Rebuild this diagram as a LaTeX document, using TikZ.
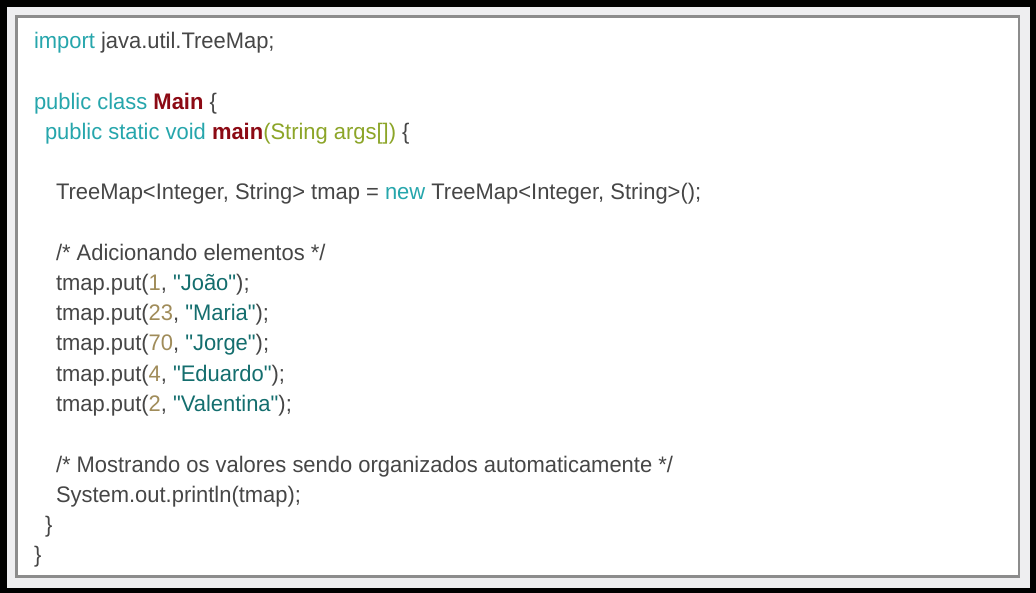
\documentclass[tikz,border=0pt]{standalone}
\usepackage{fontspec}
\setmainfont{Liberation Sans}[Ligatures=TeXOff, FakeStretch=0.975]
\definecolor{kw}{RGB}{38,166,172}
\definecolor{dred}{RGB}{140,10,20}
\definecolor{olive}{RGB}{140,165,40}
\definecolor{numc}{RGB}{160,140,90}
\definecolor{strc}{RGB}{20,110,110}
\definecolor{txt}{RGB}{70,70,70}
\definecolor{band}{RGB}{238,238,240}
\definecolor{rim}{RGB}{140,140,140}
\tikzset{
  code/.style={anchor=base west, inner sep=0pt, outer sep=0pt, text=txt,
    font=\fontsize{22.5}{27}\selectfont},
}
\newcommand{\K}[1]{\textcolor{kw}{#1}}
\newcommand{\R}[1]{\textcolor{dred}{\textbf{#1}}}
\newcommand{\G}[1]{\textcolor{olive}{#1}}
\newcommand{\N}[1]{\textcolor{numc}{#1}}
\newcommand{\St}[1]{\textcolor{strc}{#1}}
\begin{document}
\begin{tikzpicture}[x=1pt,y=-1pt]
\useasboundingbox (0,0) rectangle (1036,593);
\fill[black] (0,0) rectangle (1036,593);
\fill[band] (7,7) rectangle (1030,588);
\draw[rim, line width=2.5pt, fill=white] (16.5,16.5) rectangle (1019,576.5);
\node[code] (l1) at (34,49) {\K{import} java.util.TreeMap;};
\node[code] (l3) at (34,109.4) {\K{public class} \R{Main} \{};
\node[code] (l4) at (45,139.6) {\K{public static void} \R{main}\G{(String args[])} \{};
\node[code] (l6) at (56,200) {TreeMap<Integer, String> tmap = \K{new} TreeMap<Integer, String>();};
\node[code] (l8) at (56,260.4) {/* Adicionando elementos */};
\node[code] (l9) at (56,290.6) {tmap.put(\N{1}, \St{"João"});};
\node[code] (l10) at (56,320.8) {tmap.put(\N{23}, \St{"Maria"});};
\node[code] (l11) at (56,351) {tmap.put(\N{70}, \St{"Jorge"});};
\node[code] (l12) at (56,381.2) {tmap.put(\N{4}, \St{"Eduardo"});};
\node[code] (l13) at (56,411.4) {tmap.put(\N{2}, \St{"Valentina"});};
\node[code] (l15) at (56,472) {/* Mostrando os valores sendo organizados automaticamente */};
\node[code] (l16) at (56,502) {System.out.println(tmap);};
\node[code] (l17) at (45,532) {\}};
\node[code] (l18) at (34,562) {\}};
\end{tikzpicture}
\end{document}
